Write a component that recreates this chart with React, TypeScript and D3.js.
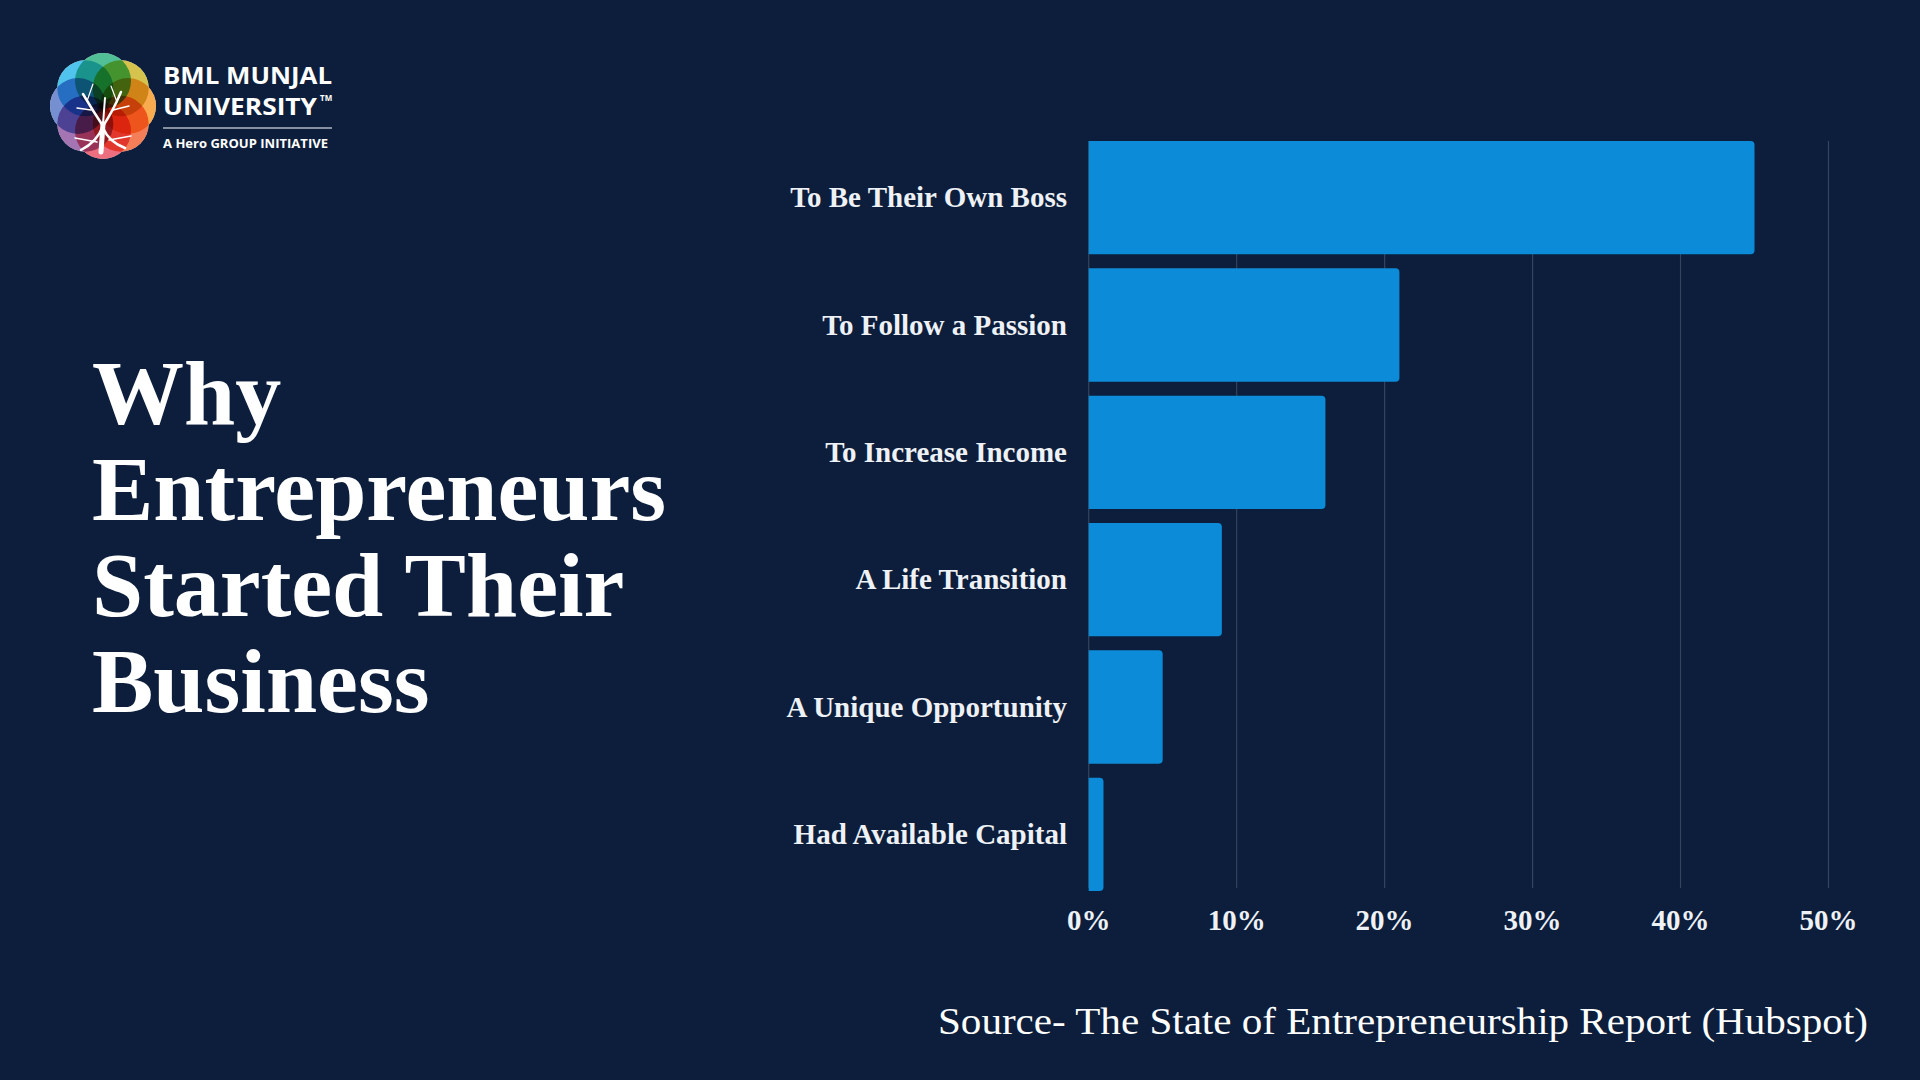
import React from "react";
import * as d3 from "d3";

// ---------- Data ----------
const categories = [
  "To Be Their Own Boss",
  "To Follow a Passion",
  "To Increase Income",
  "A Life Transition",
  "A Unique Opportunity",
  "Had Available Capital",
];
const shares = [45, 21, 16, 9, 5, 1];
const xTicks = [0, 10, 20, 30, 40, 50];
const titleLines = ["Why", "Entrepreneurs", "Started Their", "Business"];
const sourceNote = "Source- The State of Entrepreneurship Report (Hubspot)";

const petalColors = [
  "#1fae7a", // top
  "#c9b21a", // top right
  "#f7941d", // right
  "#f05a28", // bottom right
  "#e8455a", // bottom
  "#8a4c9e", // bottom left
  "#4f6fc4", // left
  "#1fb3e8", // top left
];

const BG = "#0c1e3b";
const BAR = "#0b8bd8";
const GRID = "#34445f";
const TEXT = "#eef1f5";

const W = 1920;
const H = 1080;

const barPath = (x0: number, y0: number, w: number, h: number, r: number) => {
  const rr = Math.min(r, w / 2, h / 2);
  return `M${x0},${y0}H${x0 + w - rr}Q${x0 + w},${y0} ${x0 + w},${y0 + rr}V${
    y0 + h - rr
  }Q${x0 + w},${y0 + h} ${x0 + w - rr},${y0 + h}H${x0}Z`;
};

const Logo: React.FC = () => {
  const cx = 103;
  const cy = 106;
  const dist = 25;
  const r = 28;
  const angles = d3.range(petalColors.length).map(
    (i) => -Math.PI / 2 + (i * 2 * Math.PI) / petalColors.length
  );
  return (
    <g>
      <g style={{ isolation: "isolate" }}>
        {angles.map((a, i) => (
          <circle
            key={"w" + i}
            cx={cx + dist * Math.cos(a)}
            cy={cy + dist * Math.sin(a)}
            r={r}
            fill="#ffffff"
          />
        ))}
        {angles.map((a, i) => (
          <circle
            key={"c" + i}
            cx={cx + dist * Math.cos(a)}
            cy={cy + dist * Math.sin(a)}
            r={r}
            fill={petalColors[i]}
            opacity={0.78}
            style={{ mixBlendMode: "multiply" }}
          />
        ))}
      </g>
      {/* tree */}
      <g stroke="#ffffff" fill="none" strokeLinecap="round">
        <path d={`M${cx - 2},${cy + 46} L${cx},${cy + 18}`} strokeWidth={5} />
        <path d={`M${cx - 22},${cy + 44} Q${cx - 6},${cy + 36} ${cx},${cy + 20}`} strokeWidth={2.5} />
        <path d={`M${cx + 22},${cy + 42} Q${cx + 6},${cy + 36} ${cx},${cy + 22}`} strokeWidth={2.5} />
        <path d={`M${cx},${cy + 20} Q${cx - 10},${cy + 5} ${cx - 20},${cy - 12}`} strokeWidth={2.5} />
        <path d={`M${cx},${cy + 20} Q${cx + 10},${cy + 5} ${cx + 18},${cy - 14}`} strokeWidth={2.5} />
        <path d={`M${cx},${cy + 18} L${cx + 2},${cy - 8}`} strokeWidth={2} />
        <path d={`M${cx - 12},${cy + 4} L${cx - 26},${cy + 2}`} strokeWidth={1.5} />
        <path d={`M${cx + 10},${cy + 4} L${cx + 26},${cy}`} strokeWidth={1.5} />
        <path d={`M${cx - 16},${cy - 5} L${cx - 10},${cy - 22}`} strokeWidth={1.2} />
        <path d={`M${cx + 14},${cy - 4} L${cx + 8},${cy - 20}`} strokeWidth={1.2} />
        <path d={`M${cx - 6},${cy + 36} L${cx - 28},${cy + 32}`} strokeWidth={1.5} />
        <path d={`M${cx + 6},${cy + 34} L${cx + 28},${cy + 30}`} strokeWidth={1.5} />
      </g>
      <g fill="#ffffff" fontFamily="'Open Sans', sans-serif" fontWeight={700}>
        <text x={163} y={84} fontSize={23} textLength={169} lengthAdjust="spacingAndGlyphs">
          BML MUNJAL
        </text>
        <text x={163} y={115} fontSize={23} textLength={154} lengthAdjust="spacingAndGlyphs">
          UNIVERSITY
        </text>
        <text x={320} y={101} fontSize={8}>
          TM
        </text>
        <line x1={163} x2={332} y1={128} y2={128} stroke="#ffffff" strokeWidth={1.2} />
        <text x={163} y={148} fontSize={13} textLength={165} lengthAdjust="spacingAndGlyphs">
          A Hero GROUP INITIATIVE
        </text>
      </g>
    </g>
  );
};

const App: React.FC = () => {
  const x = d3.scaleLinear().domain([0, 50]).range([1088.7, 1828.5]);
  const y = d3
    .scaleBand<string>()
    .domain(categories)
    .range([141, 891])
    .paddingInner(0.11)
    .paddingOuter(0);

  return (
    <div style={{ position: "absolute", left: 0, top: 0, width: W, height: H }}>
      <svg width={W} height={H} style={{ display: "block", background: BG }}>
        <rect width={W} height={H} fill={BG} />

        <Logo />

        {/* Title */}
        <g fill="#ffffff" fontFamily="'Liberation Serif', serif" fontWeight={700} fontSize={92}>
          {titleLines.map((t, i) => (
            <text key={t} x={92} y={424 + i * 96}>
              {t}
            </text>
          ))}
        </g>

        {/* Gridlines */}
        <g>
          {xTicks.map((t) => (
            <line
              key={t}
              x1={x(t)}
              x2={x(t)}
              y1={141}
              y2={888}
              stroke={GRID}
              strokeWidth={1.2}
            />
          ))}
        </g>

        {/* Bars */}
        <g>
          {categories.map((c, i) => (
            <path
              key={c}
              d={barPath(x(0), y(c)!, x(shares[i]) - x(0), y.bandwidth(), 4)}
              fill={BAR}
            />
          ))}
        </g>

        {/* Category labels */}
        <g fill={TEXT} fontFamily="'Liberation Serif', serif" fontWeight={700} fontSize={29}>
          {categories.map((c) => (
            <text
              key={c}
              x={1067}
              y={y(c)! + y.bandwidth() / 2}
              dy="0.33em"
              textAnchor="end"
            >
              {c}
            </text>
          ))}
        </g>

        {/* X tick labels */}
        <g fill={TEXT} fontFamily="'Liberation Serif', serif" fontWeight={700} fontSize={29}>
          {xTicks.map((t) => (
            <text key={t} x={x(t)} y={930} textAnchor="middle">
              {`${t}%`}
            </text>
          ))}
        </g>

        {/* Source */}
        <text
          x={1868}
          y={1034}
          textAnchor="end"
          fill="#ffffff"
          fontFamily="'Liberation Serif', serif"
          fontSize={38}
          textLength={930}
          lengthAdjust="spacingAndGlyphs"
        >
          {sourceNote}
        </text>
      </svg>
    </div>
  );
};

export default App;
